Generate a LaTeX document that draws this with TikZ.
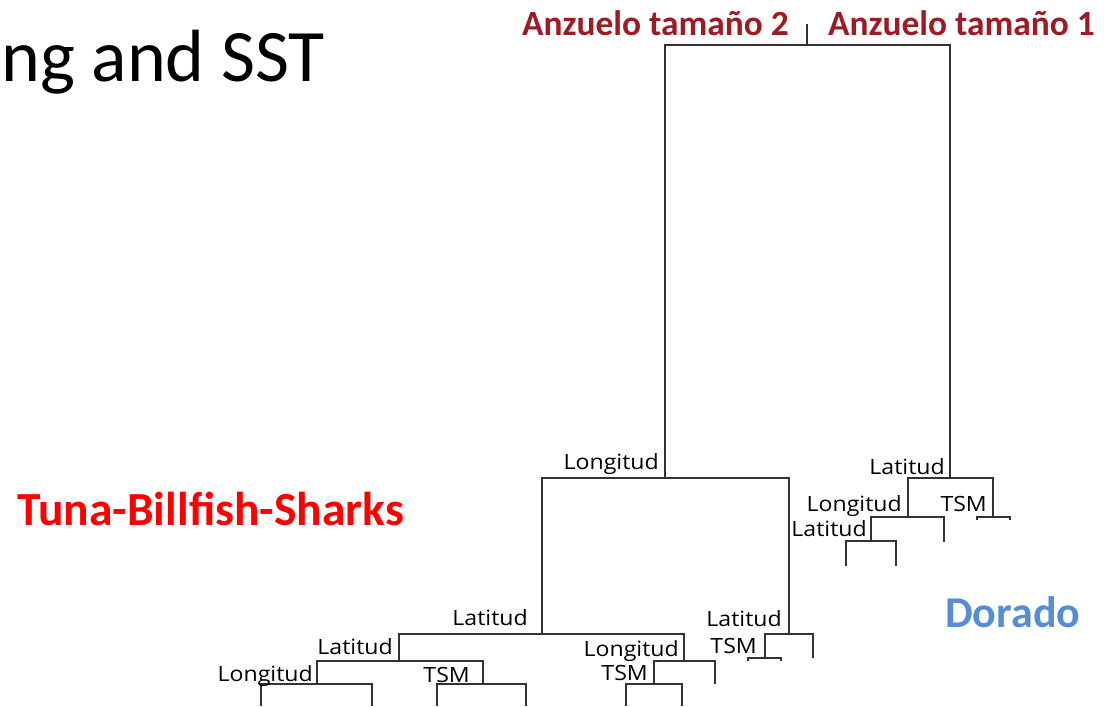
\documentclass[tikz,border=0pt]{standalone}
\usepackage{fontspec}
\setmainfont{Open Sans}
\newfontfamily\calibri{Carlito}
\newfontfamily\labfont[FakeStretch=1.1]{Open Sans}
\definecolor{hookred}{RGB}{158,27,36}
\definecolor{dorado}{RGB}{85,142,213}

\tikzset{
	branch/.style={draw=black!80, line width=1.4pt},
	lab/.style={font=\labfont\fontsize{21}{21}\selectfont, anchor=base east, inner sep=0pt},
	hook/.style={font=\calibri\bfseries\fontsize{35.4}{36}\selectfont, text=hookred, anchor=base west, inner sep=0pt},
}

\begin{document}
\begin{tikzpicture}[x=1pt, y=-1pt]
	\useasboundingbox (0,0) rectangle (1107,706);

	% titles
	\node [anchor=base west, inner sep=0pt, font=\calibri\fontsize{74}{74}\selectfont] (title) at (1,82) {ng and SST};
	\node [anchor=base west, inner sep=0pt, text=red, font=\calibri\bfseries\fontsize{47.5}{48}\selectfont] (tuna) at (17,525) {Tuna-Billfish-Sharks};
	\node [anchor=base west, inner sep=0pt, text=dorado, font=\calibri\bfseries\fontsize{44}{44}\selectfont] (dorado) at (945,627) {Dorado};
	\node [hook] (hook2) at (522,36) {Anzuelo tamaño 2};
	\node [hook] (hook1) at (828,36) {Anzuelo tamaño 1};

	% splits
	\coordinate (top) at (807,24);
	\coordinate (root) at (807,45);
	\coordinate (L) at (665,478);
	\coordinate (R) at (950,478);
	\coordinate (LL) at (542,634);
	\coordinate (LR) at (789,634);
	\coordinate (LLL) at (399,661);
	\coordinate (LLR) at (684,661);
	\coordinate (LLLL) at (317,684);
	\coordinate (LLLR) at (483,684);
	\coordinate (LLRL) at (654,684);
	\coordinate (LLRR) at (715,684);
	\coordinate (LRL) at (765,658);
	\coordinate (LRR) at (813,658);
	\coordinate (RL) at (908,517);
	\coordinate (RR) at (993,517);
	\coordinate (RLL) at (871,541);
	\coordinate (RLR) at (944,542);

	% leaves
	\coordinate (LLLLa) at (261,706);
	\coordinate (LLLLb) at (372,706);
	\coordinate (LLLRa) at (437,706);
	\coordinate (LLLRb) at (526,706);
	\coordinate (LLRLa) at (626,706);
	\coordinate (LLRLb) at (682,706);
	\coordinate (LRLa) at (748,661);
	\coordinate (LRLb) at (781,661);
	\coordinate (RLLa) at (846,566);
	\coordinate (RLLb) at (896,566);
	\coordinate (RRa) at (977,520);
	\coordinate (RRb) at (1010,520);

	\draw [branch] (top) -- (root);
	\draw [branch] (L) |- (root) -| (R);
	\draw [branch] (LL) |- (L) -| (LR);
	\draw [branch] (LLL) |- (LL) -| (LLR);
	\draw [branch] (LLLL) |- (LLL) -| (LLLR);
	\draw [branch] (LLLLa) |- (LLLL) -| (LLLLb);
	\draw [branch] (LLLRa) |- (LLLR) -| (LLLRb);
	\draw [branch] (LLRL) |- (LLR) -| (LLRR);
	\draw [branch] (LLRLa) |- (LLRL) -| (LLRLb);
	\draw [branch] (LRL) |- (LR) -| (LRR);
	\draw [branch] (LRLa) |- (LRL) -| (LRLb);
	\draw [branch] (RL) |- (R) -| (RR);
	\draw [branch] (RLL) |- (RL) -| (RLR);
	\draw [branch] (RLLa) |- (RLL) -| (RLLb);
	\draw [branch] (RRa) |- (RR) -| (RRb);

	% split labels
	\node [lab] (lL) at (659,469) {Longitud};
	\node [lab] (lR) at (945,474) {Latitud};
	\node [lab] (lRL) at (902,511) {Longitud};
	\node [lab] (lRR) at (987,511) {TSM};
	\node [lab] (lRLL) at (867,536) {Latitud};
	\node [lab] (lLL) at (528,625) {Latitud};
	\node [lab] (lLLL) at (393,654) {Latitud};
	\node [lab] (lLLLL) at (313,681) {Longitud};
	\node [lab] (lLLLR) at (470,682) {TSM};
	\node [lab] (lLLR) at (679,656) {Longitud};
	\node [lab] (lLLRL) at (648,680) {TSM};
	\node [lab] (lLR) at (782,626) {Latitud};
	\node [lab] (lLRL) at (757,653) {TSM};
\end{tikzpicture}
\end{document}
